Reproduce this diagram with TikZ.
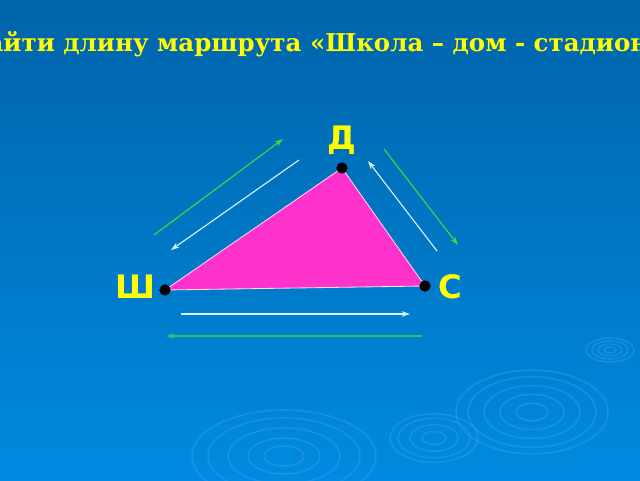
\documentclass[tikz,border=0pt]{standalone}
\usepackage{fontspec}
\setmainfont{DejaVu Serif}
\setsansfont{DejaVu Sans}
\usepackage{xcolor}
\usetikzlibrary{arrows.meta}
\definecolor{bgtop}{RGB}{0,100,170}
\definecolor{bgbot}{RGB}{0,138,224}
\definecolor{ripple}{RGB}{60,160,235}
\definecolor{titleyellow}{RGB}{255,255,0}
\definecolor{trifill}{RGB}{255,51,204}
\definecolor{routegreen}{RGB}{70,215,60}
\definecolor{backgreen}{RGB}{40,195,110}

\tikzset{
  vertex/.style={circle, fill=black, inner sep=0pt, minimum size=8pt},
  vlabel/.style={text=titleyellow, font=\sffamily\bfseries\fontsize{23}{25}\selectfont},
  goarrow/.style={routegreen, line width=0.8pt, -{Stealth[length=6pt,width=4pt]}},
  backarrow/.style={white!85!cyan, line width=0.8pt, -{Stealth[length=6pt,width=4pt]}},
  rippleline/.style={ripple, line width=1.2pt, opacity=0.4}
}

\begin{document}
\begin{tikzpicture}
        \useasboundingbox (0,0) rectangle (16,12);
        \clip (0,0) rectangle (16,12);
        \shade[top color=bgtop, bottom color=bgbot] (0,0) rectangle (16,12);
        
        % ripples on the water
        \foreach \r in {0.5,0.9,1.4,1.9,2.3}
            \draw[rippleline] (7.1,0.6) ellipse ({\r} and {0.5*\r});
        \foreach \r in {0.3,0.6,0.9,1.1}
            \draw[rippleline] (10.85,1.05) ellipse ({\r} and {0.55*\r});
        \foreach \r in {0.4,0.8,1.2,1.6,1.9}
            \draw[rippleline] (13.3,1.7) ellipse ({\r} and {0.55*\r});
        \foreach \r in {0.15,0.3,0.45,0.6}
            \draw[rippleline] (15.25,3.25) ellipse ({\r} and {0.5*\r});
        
        \node[anchor=base, text=titleyellow, font=\bfseries\fontsize{17.4}{19}\selectfont] (title) at (7.85,10.7)
            {Найти длину маршрута «Школа – дом - стадион»};
        
        \coordinate (sh) at (4.125,4.75);
        \coordinate (dom) at (8.55,7.8);
        \coordinate (st) at (10.625,4.85);
        \fill[trifill] (sh) -- (dom) -- (st) -- cycle;
        \draw[white!80!trifill, line width=0.6pt] (sh) -- (dom) -- (st) -- cycle;
        
        \node[vertex] (shdot) at (sh) {};
        \node[vertex] (domdot) at (dom) {};
        \node[vertex] (stdot) at (st) {};
        
        \node[vlabel] (shlabel) at (3.375,4.83) {Ш};
        \node[vlabel] (domlabel) at (8.55,8.5) {Д};
        \node[vlabel] (stlabel) at (11.25,4.83) {С};
        
        % school - home
        \coordinate (g1a) at (3.85,6.125);
        \coordinate (g1b) at (7.075,8.525);
        \draw[goarrow] (g1a) -- (g1b);
        \coordinate (w1a) at (7.475,8.0);
        \coordinate (w1b) at (4.275,5.75);
        \draw[backarrow] (w1a) -- (w1b);
        
        % home - stadium
        \coordinate (g2a) at (9.6,8.275);
        \coordinate (g2b) at (11.45,5.875);
        \draw[goarrow] (g2a) -- (g2b);
        \coordinate (w2a) at (10.925,5.725);
        \coordinate (w2b) at (9.2,7.975);
        \draw[backarrow] (w2a) -- (w2b);
        
        % stadium - school
        \coordinate (w3a) at (4.525,4.15);
        \coordinate (w3b) at (10.25,4.15);
        \draw[backarrow] (w3a) -- (w3b);
        \coordinate (g3a) at (10.55,3.6);
        \coordinate (g3b) at (4.15,3.6);
        \draw[goarrow, backgreen] (g3a) -- (g3b);
    \end{tikzpicture}
\end{document}
